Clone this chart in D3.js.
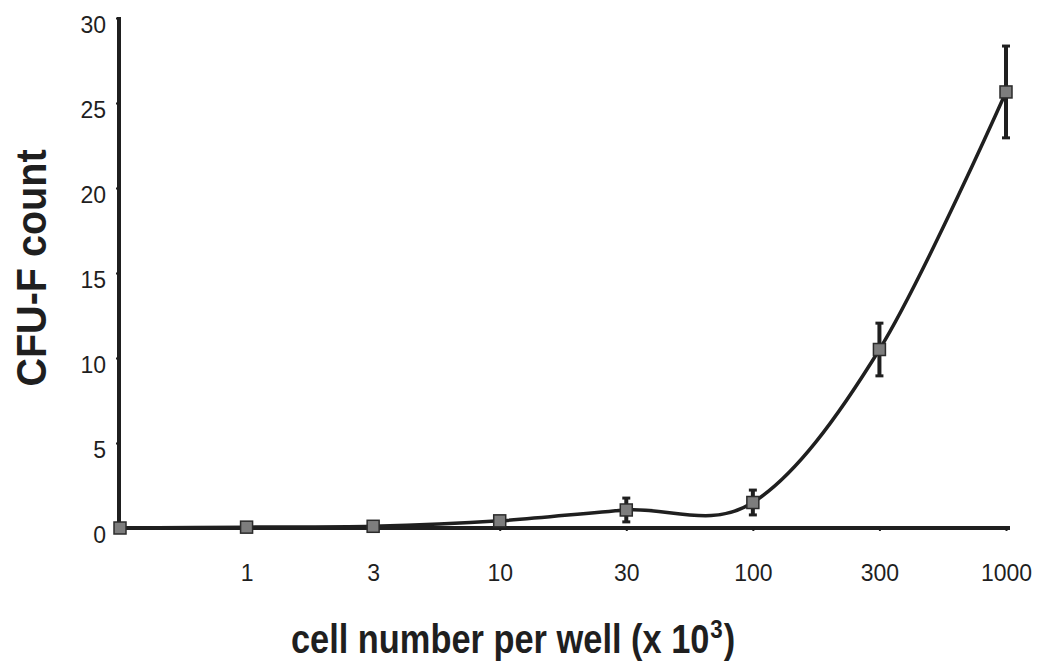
<!DOCTYPE html>
<html>
<head>
<meta charset="utf-8">
<script src="https://cdn.jsdelivr.net/npm/d3@7"></script>
<style>
  body { margin: 0; background: #fff; }
  svg { display: block; }
</style>
</head>
<body>
<div id="chart"></div>
<script>
// CFU-F count vs cell number per well, smoothed line with error bars

const cellNumbers = ["0", "1", "3", "10", "30", "100", "300", "1000"];
const cfuCounts   = [0, 0.05, 0.1, 0.42, 1.06, 1.5, 10.5, 25.65];
const cfuErrors   = [0, 0, 0, 0, 0.7, 0.73, 1.55, 2.7];
const yTicks      = [0, 5, 10, 15, 20, 25, 30];

const width = 1051, height = 669;
const margin = { top: 18, right: 45, bottom: 141, left: 120 };

const svg = d3.select("#chart")
    .append("svg")
    .attr("width", width)
    .attr("height", height);

const x = d3.scalePoint()
    .domain(cellNumbers)
    .range([margin.left, width - margin.right]);

const y = d3.scaleLinear()
    .domain([0, 30])
    .range([height - margin.bottom, margin.top]);

const ink = "#1f1f1f";
const font = "Liberation Sans, Arial, sans-serif";
const data = cellNumbers.map((c, i) => ({ c: c, v: cfuCounts[i], e: cfuErrors[i] }));

// x axis
const xAxis = svg.append("g")
    .attr("transform", `translate(0, ${y(0)})`)
    .call(d3.axisBottom(x)
        .tickSize(3)
        .tickPadding(34)
        .tickFormat(d => d === "0" ? "" : d));
xAxis.select(".domain")
    .attr("d", `M${x("0")},0H${x("1000") + 4}`)
    .attr("stroke", ink)
    .attr("stroke-width", 4);
xAxis.selectAll(".tick line").attr("stroke", ink).attr("stroke-width", 2);
xAxis.selectAll(".tick text")
    .attr("fill", ink)
    .style("font-family", font)
    .style("font-size", "23px");

// y axis
const yAxis = svg.append("g")
    .attr("transform", `translate(${margin.left - 1}, 0)`)
    .call(d3.axisLeft(y)
        .tickValues(yTicks)
        .tickSize(3)
        .tickPadding(10));
yAxis.select(".domain")
    .attr("d", `M0,${y(30) - 1}V${y(0) + 2}`)
    .attr("stroke", ink)
    .attr("stroke-width", 4);
yAxis.selectAll(".tick line").attr("stroke", ink).attr("stroke-width", 2);
yAxis.selectAll(".tick text")
    .attr("fill", ink)
    .attr("dy", "0.62em")
    .style("font-family", font)
    .style("font-size", "23px");

// smoothed line
const line = d3.line()
    .x(d => x(d.c))
    .y(d => y(d.v))
    .curve(d3.curveCardinal.tension(0));

svg.append("path")
    .datum(data)
    .attr("d", line)
    .attr("fill", "none")
    .attr("stroke", ink)
    .attr("stroke-width", 3.5);

// error bars
const bars = svg.selectAll(".err")
    .data(data.filter(d => d.e > 0))
    .join("g")
    .attr("class", "err");

bars.append("line")
    .attr("x1", d => x(d.c))
    .attr("x2", d => x(d.c))
    .attr("y1", d => y(d.v + d.e))
    .attr("y2", d => y(d.v - d.e))
    .attr("stroke", ink)
    .attr("stroke-width", 4);

bars.selectAll(".cap")
    .data(d => [d.v + d.e, d.v - d.e].map(v => ({ c: d.c, v: v })))
    .join("line")
    .attr("class", "cap")
    .attr("x1", d => x(d.c) - 4)
    .attr("x2", d => x(d.c) + 4)
    .attr("y1", d => y(d.v))
    .attr("y2", d => y(d.v))
    .attr("stroke", ink)
    .attr("stroke-width", 3);

// square markers
svg.selectAll(".marker")
    .data(data)
    .join("rect")
    .attr("class", "marker")
    .attr("x", d => x(d.c) - 6)
    .attr("y", d => y(d.v) - 6)
    .attr("width", 12)
    .attr("height", 12)
    .attr("fill", "#7d7d7d")
    .attr("stroke", "#2b2b2b")
    .attr("stroke-width", 1.5);

// axis titles (bold, a bit condensed like the original)
const squeeze = 0.86;
const xTitle = svg.append("text")
    .attr("transform", `scale(${squeeze}, 1)`)
    .attr("x", 513 / squeeze)
    .attr("y", 653)
    .attr("text-anchor", "middle")
    .attr("fill", ink)
    .style("font-family", font)
    .style("font-weight", "bold")
    .style("font-size", "40px");
xTitle.append("tspan").text("cell number per well (x 10");
xTitle.append("tspan")
    .attr("dx", 1)
    .attr("dy", -15)
    .style("font-size", "26px")
    .text("3");
xTitle.append("tspan")
    .attr("dx", 1)
    .attr("dy", 15)
    .text(")");

svg.append("text")
    .attr("transform", "translate(46, 268) rotate(-90) scale(0.92, 1)")
    .attr("text-anchor", "middle")
    .attr("fill", ink)
    .style("font-family", font)
    .style("font-weight", "bold")
    .style("font-size", "43px")
    .text("CFU-F count");
</script>
</body>
</html>
